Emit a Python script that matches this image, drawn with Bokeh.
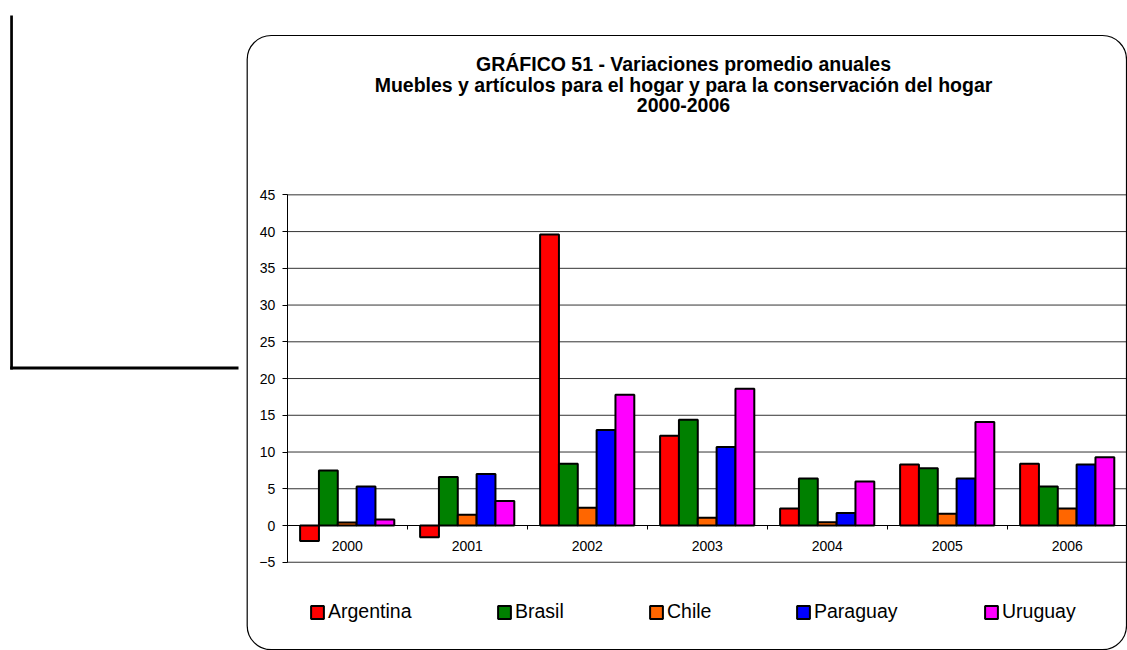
from bokeh.plotting import figure
from bokeh.models import (ColumnDataSource, Range1d, LinearAxis, FixedTicker, Legend,
                          LegendItem, Label, BoxAnnotation)
from bokeh.transform import dodge
from bokeh.embed import file_html
from bokeh.resources import INLINE

# ---- data ----
years = ["2000", "2001", "2002", "2003", "2004", "2005", "2006"]
countries = ["Argentina", "Brasil", "Chile", "Paraguay", "Uruguay"]
argentina = [-2.1, -1.6, 39.6, 12.2, 2.3, 8.3, 8.4]
brasil = [7.5, 6.6, 8.4, 14.4, 6.4, 7.8, 5.3]
chile = [0.4, 1.45, 2.4, 1.05, 0.45, 1.6, 2.3]
paraguay = [5.3, 7.0, 13.0, 10.7, 1.7, 6.4, 8.3]
uruguay = [0.8, 3.35, 17.8, 18.6, 6.0, 14.1, 9.3]
y_ticks = [-5, 0, 5, 10, 15, 20, 25, 30, 35, 40, 45]
title_lines = ["GRÁFICO 51 - Variaciones promedio anuales",
               "Muebles y artículos para el hogar y para la conservación del hogar",
               "2000-2006"]
colors = ["#FF0000", "#008000", "#FF6600", "#0000FF", "#FF00FF"]

# ---- layout constants (pixels) ----
W, H = 1127, 650
PLOT_LEFT_PX = 286.7      # x of first category boundary
CAT_PX = 120.0            # width of one category
ZERO_PX = 525.0           # y of value 0 from top
UNIT_PX = 7.348           # pixels per unit of value
FONT = "Liberation Sans"

n = len(years)
centers = [i + 0.5 for i in range(n)]
x_start = -PLOT_LEFT_PX / CAT_PX
y_end = ZERO_PX / UNIT_PX

src = ColumnDataSource(dict(xc=centers, Argentina=argentina, Brasil=brasil, Chile=chile,
                            Paraguay=paraguay, Uruguay=uruguay))
grid_src = ColumnDataSource(dict(y=y_ticks, x0=[0] * len(y_ticks), x1=[n] * len(y_ticks)))

p = figure(width=W, height=H,
           x_range=Range1d(x_start, x_start + W / CAT_PX),
           y_range=Range1d(y_end - H / UNIT_PX, y_end),
           output_backend="svg", toolbar_location=None,
           x_axis_location=None, y_axis_location=None,
           min_border_left=0, min_border_right=0, min_border_top=0, min_border_bottom=0)
p.outline_line_color = None
p.background_fill_color = "white"
p.border_fill_color = "white"
p.xgrid.visible = False
p.ygrid.visible = False

# horizontal gridlines over the plot area
p.segment(x0="x0", x1="x1", y0="y", y1="y", source=grid_src,
          line_color="#333333", line_width=1)

# y axis
yax = LinearAxis(ticker=FixedTicker(ticks=y_ticks), fixed_location=0,
                 bounds=(y_ticks[0], y_ticks[-1]),
                 axis_line_color="black", major_tick_line_color="black",
                 major_tick_out=5, major_tick_in=0, minor_tick_line_color=None,
                 major_label_standoff=7, major_label_text_font=FONT,
                 major_label_text_font_size="14px", major_label_text_color="black")
p.add_layout(yax, "left")

# x axis at y=0 : boundary ticks
ax_ticks = LinearAxis(ticker=FixedTicker(ticks=list(range(n + 1))), fixed_location=0,
                      bounds=(0, n),
                      major_label_text_color=None, major_tick_out=4, major_tick_in=0,
                      minor_tick_line_color=None, axis_line_color="black",
                      major_tick_line_color="black")
p.add_layout(ax_ticks, "below")
# category labels
ax_lab = LinearAxis(ticker=FixedTicker(ticks=centers), fixed_location=0,
                    bounds=(0, n),
                    major_label_overrides={c: y for c, y in zip(centers, years)},
                    major_tick_line_color=None, major_tick_out=0, major_tick_in=0,
                    minor_tick_line_color=None, axis_line_color=None,
                    major_label_standoff=15, major_label_text_font=FONT,
                    major_label_text_font_size="14px", major_label_text_color="black")
p.add_layout(ax_lab, "below")

# bars
w = 0.157
renderers = []
for k, (name, c) in enumerate(zip(countries, colors)):
    off = (k - 2) * w
    r = p.vbar(x=dodge("xc", off), top=name, bottom=0, width=w, source=src,
               fill_color=c, line_color="black", line_width=2)
    renderers.append(r)

# legends (one per item for spacing); location in px from bottom-left
leg_x = [309, 496, 648, 795, 983]
for r, name, lx in zip(renderers, countries, leg_x):
    leg = Legend(items=[LegendItem(label=name, renderers=[r])], location=(lx, 27),
                 orientation="horizontal", padding=0, margin=0, spacing=0,
                 border_line_color=None, background_fill_alpha=0,
                 glyph_width=16, glyph_height=16, label_standoff=3,
                 label_text_font=FONT, label_text_font_size="19.5px",
                 label_text_color="black")
    p.add_layout(leg, "center")

# titles
for txt, yy in zip(title_lines, [586.5, 566, 545.5]):
    p.add_layout(Label(x=683, y=yy, x_units="screen", y_units="screen", text=txt,
                       text_align="center", text_baseline="middle", text_font=FONT,
                       text_font_style="bold", text_font_size="19.5px", text_color="black"))

# rounded chart border
p.add_layout(BoxAnnotation(left=246.7, right=1126, top=615, bottom=0.8,
                           left_units="screen", right_units="screen",
                           top_units="screen", bottom_units="screen",
                           fill_color=None, line_color="black", line_alpha=1,
                           line_width=1.2, border_radius=24))
# L-shaped lines on the left
p.add_layout(BoxAnnotation(left=9.7, right=12.4, top=635, bottom=281,
                           left_units="screen", right_units="screen",
                           top_units="screen", bottom_units="screen",
                           fill_color="black", fill_alpha=1, line_color=None))
p.add_layout(BoxAnnotation(left=9.7, right=238, top=284, bottom=281,
                           left_units="screen", right_units="screen",
                           top_units="screen", bottom_units="screen",
                           fill_color="black", fill_alpha=1, line_color=None))

open("out.html", "w").write(file_html(p, INLINE))
